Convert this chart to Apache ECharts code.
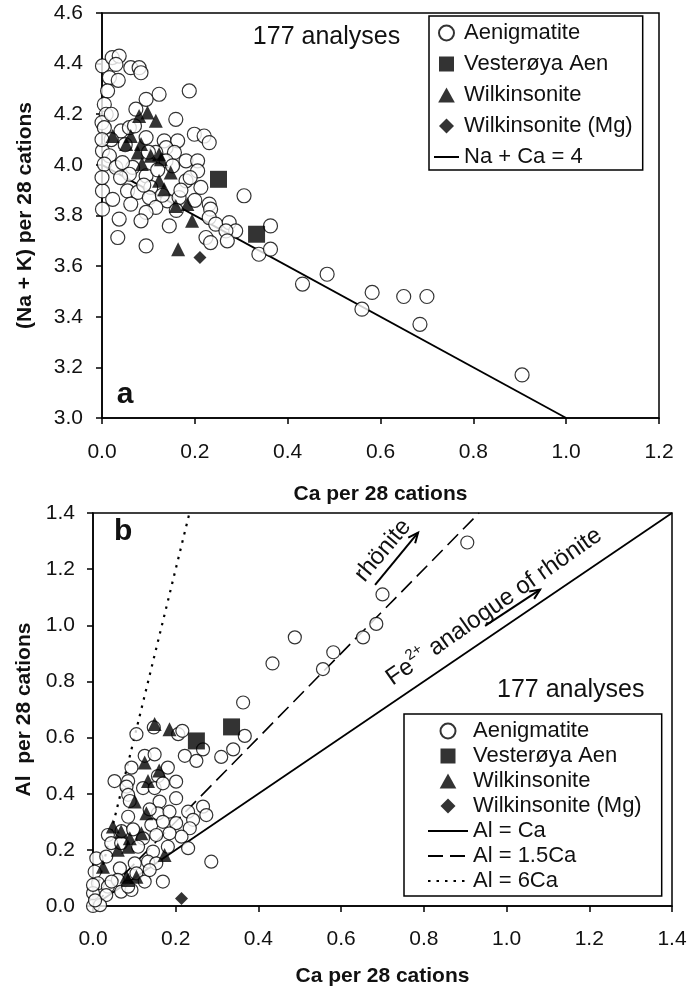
<!DOCTYPE html>
<html><head><meta charset="utf-8">
<script src="https://cdn.jsdelivr.net/npm/echarts@6/dist/echarts.min.js"></script>
<style>html,body{margin:0;padding:0;background:#fff}#c{width:690px;height:990px}</style>
</head><body><div id="c"></div>
<script>
// ---------- Panel a data ----------
const aAenigmatite = [[0.001,4.391],[0.022,4.424],[0.037,4.430],[0.030,4.397],[0.016,4.345],[0.035,4.334],[0.062,4.384],[0.080,4.384],[0.084,4.364],[0.012,4.292],[0.123,4.279],[0.188,4.292],[0.095,4.259],[0.005,4.239],[0.009,4.200],[0.073,4.220],[0.159,4.180],[0.000,4.167],[0.005,4.147],[0.041,4.134],[0.059,4.147],[0.070,4.154],[0.199,4.121],[0.220,4.114],[0.231,4.088],[0.095,4.108],[0.134,4.095],[0.163,4.095],[0.138,4.068],[0.001,4.055],[0.016,4.036],[0.116,4.049],[0.156,4.049],[0.005,4.003],[0.030,3.990],[0.066,3.990],[0.044,4.009],[0.138,4.016],[0.181,4.016],[0.206,4.016],[0.095,3.957],[0.059,3.963],[0.152,3.996],[0.206,3.976],[0.181,3.937],[0.213,3.911],[0.001,3.897],[0.023,3.864],[0.055,3.897],[0.077,3.891],[0.105,3.911],[0.102,3.871],[0.141,3.858],[0.166,3.871],[0.062,3.845],[0.116,3.832],[0.001,3.825],[0.095,3.812],[0.084,3.779],[0.037,3.786],[0.145,3.759],[0.231,3.845],[0.234,3.825],[0.231,3.792],[0.245,3.766],[0.274,3.772],[0.288,3.739],[0.267,3.739],[0.224,3.713],[0.234,3.693],[0.270,3.700],[0.034,3.713],[0.095,3.680],[0.306,3.878],[0.363,3.759],[0.338,3.647],[0.363,3.667],[0.432,3.529],[0.485,3.568],[0.582,3.496],[0.560,3.430],[0.650,3.480],[0.700,3.480],[0.685,3.370],[0.905,3.170],[0.100,4.050],[0.120,3.980],[0.090,3.920],[0.130,3.880],[0.170,3.900],[0.190,3.950],[0.200,3.860],[0.160,3.820],[0.050,4.080],[0.020,4.100],[0.040,3.950],[0.000,3.950],[0.000,4.100],[0.020,4.200]];
const aVesteroya = [[0.251,3.943],[0.333,3.726]];
const aWilkinsonite = [[0.023,4.114],[0.052,4.082],[0.062,4.114],[0.080,4.193],[0.098,4.207],[0.116,4.174],[0.084,4.082],[0.077,4.049],[0.086,4.003],[0.105,4.036],[0.123,4.042],[0.127,4.022],[0.148,3.970],[0.123,3.937],[0.134,3.904],[0.159,3.838],[0.184,3.845],[0.194,3.779],[0.164,3.667]];
const aWilkinsoniteMg = [[0.211,3.634]];
const aLineNaCa4 = [[0,4],[1,3]];

// ---------- Panel b data ----------
const bAenigmatite = [[0.488,0.957],[0.434,0.864],[0.363,0.725],[0.556,0.844],[0.581,0.904],[0.653,0.957],[0.685,1.005],[0.700,1.110],[0.905,1.295],[0.105,0.612],[0.147,0.636],[0.206,0.612],[0.216,0.624],[0.367,0.606],[0.339,0.558],[0.310,0.531],[0.222,0.535],[0.250,0.517],[0.266,0.558],[0.125,0.535],[0.149,0.540],[0.093,0.493],[0.181,0.493],[0.157,0.463],[0.052,0.445],[0.085,0.445],[0.081,0.425],[0.085,0.396],[0.121,0.420],[0.149,0.420],[0.169,0.437],[0.201,0.443],[0.201,0.384],[0.161,0.372],[0.085,0.318],[0.157,0.330],[0.185,0.336],[0.141,0.289],[0.169,0.300],[0.201,0.295],[0.230,0.336],[0.242,0.307],[0.266,0.354],[0.274,0.324],[0.234,0.277],[0.214,0.247],[0.185,0.259],[0.153,0.253],[0.121,0.241],[0.036,0.253],[0.044,0.224],[0.068,0.224],[0.109,0.211],[0.145,0.194],[0.181,0.211],[0.230,0.206],[0.008,0.170],[0.032,0.176],[0.065,0.134],[0.101,0.152],[0.133,0.158],[0.153,0.152],[0.105,0.116],[0.004,0.122],[0.012,0.081],[0.036,0.069],[0.060,0.093],[0.125,0.087],[0.137,0.128],[0.169,0.087],[0.286,0.158],[0.032,0.039],[0.068,0.051],[0.000,0.046],[0.093,0.057],[0.089,0.374],[0.137,0.344],[0.069,0.267],[0.097,0.273],[0.000,0.000],[0.017,0.003],[0.005,0.020],[0.045,0.087],[0.085,0.069],[0.000,0.075]];
const bVesteroya = [[0.250,0.588],[0.335,0.638]];
const bWilkinsonite = [[0.149,0.648],[0.185,0.630],[0.125,0.511],[0.160,0.483],[0.133,0.445],[0.101,0.372],[0.129,0.330],[0.048,0.283],[0.068,0.265],[0.089,0.241],[0.117,0.259],[0.085,0.211],[0.060,0.200],[0.173,0.182],[0.024,0.140],[0.081,0.104],[0.105,0.104],[0.085,0.093]];
const bWilkinsoniteMg = [[0.214,0.027]];
const bLineAlCa = [[0,0],[1.4,1.4]];
const bLineAl15Ca = [[0,0],[0.9333,1.4]];
const bLineAl6Ca = [[0,0],[0.2333,1.4]];

const FONT = '"Liberation Sans", Arial, Helvetica, sans-serif';
const TXT = '#111';

const ICON_SQUARE = 'path://M0,0L10,0L10,10L0,10Z';
const ICON_TRIANGLE = 'path://M5,0L10,9L0,9Z';
const ICON_DIAMOND = 'path://M5,0L10,5L5,10L0,5Z';

const chart = echarts.init(document.getElementById('c'), null, {renderer: 'canvas'});

function axisCommon(extra) {
  return Object.assign({
    type: 'value',
    nameLocation: 'middle',
    nameTextStyle: {fontSize: 21, fontWeight: 'bold', fontFamily: FONT, color: TXT},
    axisLine: {show: true, onZero: false, lineStyle: {color: '#000', width: 1.5}},
    axisTick: {show: true, inside: false, length: 6, lineStyle: {color: '#000', width: 1.5}},
    splitLine: {show: false}
  }, extra);
}
function lbl(margin) {
  return {fontSize: 21, fontFamily: FONT, color: TXT, margin, formatter: v => v.toFixed(1)};
}

const circleStyle = {color: '#fff', borderColor: '#000', borderWidth: 1.2};
const blackStyle = {color: '#000'};

function scatter(name, data, gi, symbol, size, style, z) {
  return {name, type: 'scatter', xAxisIndex: gi, yAxisIndex: gi, data, symbol, symbolSize: size,
    itemStyle: style, z, clip: false, emphasis: {disabled: true}, silent: true};
}
function line(name, data, gi, type, width, z) {
  return {name, type: 'line', xAxisIndex: gi, yAxisIndex: gi, data, symbol: 'none', showSymbol: false,
    lineStyle: {color: '#000', width, type}, itemStyle: {color: 'rgba(0,0,0,0)', opacity: 0},
    z, silent: true, animation: false};
}
function legendItems(names) {
  const icons = {'Aenigmatite': 'circle', 'Vesterøya Aen': ICON_SQUARE, 'Wilkinsonite': ICON_TRIANGLE, 'Wilkinsonite (Mg)': ICON_DIAMOND};
  return names.map(n => icons[n] ? {name: n, icon: icons[n]} : {name: n, itemStyle: {opacity: 0, color: 'rgba(0,0,0,0)', borderWidth: 0}});
}

const option = {
  animation: false,
  backgroundColor: '#fff',
  textStyle: {fontFamily: FONT},
  grid: [
    {left: 102, top: 13, width: 557, height: 405, show: true, borderColor: '#000', borderWidth: 1.5, backgroundColor: 'transparent'},
    {left: 93, top: 513, width: 579, height: 393, show: true, borderColor: '#000', borderWidth: 1.5, backgroundColor: 'transparent'}
  ],
  xAxis: [
    axisCommon({gridIndex: 0, min: 0, max: 1.2, interval: 0.2, name: 'Ca per 28 cations', nameGap: 66, axisLabel: lbl(24)}),
    axisCommon({gridIndex: 1, min: 0, max: 1.4, interval: 0.2, name: 'Ca per 28 cations', nameGap: 60, axisLabel: lbl(23)})
  ],
  yAxis: [
    axisCommon({gridIndex: 0, min: 3.0, max: 4.6, interval: 0.2, name: '(Na + K) per 28 cations', nameRotate: 90, nameGap: 66, axisLabel: lbl(19)}),
    axisCommon({gridIndex: 1, min: 0, max: 1.4, interval: 0.2, name: 'Al  per 28 cations', nameRotate: 90, nameGap: 57, axisLabel: lbl(18)})
  ],
  legend: [
    {orient: 'vertical', left: 429, top: 16, padding: [6, 10, 2, 4], itemGap: 9, itemWidth: 25, itemHeight: 15,
      symbolKeepAspect: true,
      borderColor: '#000', borderWidth: 1.5, backgroundColor: '#fff', selectedMode: false, z: 10,
      textStyle: {fontSize: 22, fontFamily: FONT, color: TXT},
      data: legendItems(['Aenigmatite', 'Vesterøya Aen', 'Wilkinsonite', 'Wilkinsonite (Mg)', 'Na + Ca = 4'])},
    {orient: 'vertical', left: 404, top: 714, padding: [6, 20, 4, 23], itemGap: 3, itemWidth: 40, itemHeight: 15,
      symbolKeepAspect: true,
      borderColor: '#000', borderWidth: 1.5, backgroundColor: '#fff', selectedMode: false, z: 10,
      textStyle: {fontSize: 22, fontFamily: FONT, color: TXT},
      data: legendItems(['Aenigmatite', 'Vesterøya Aen', 'Wilkinsonite', 'Wilkinsonite (Mg)', 'Al = Ca', 'Al = 1.5Ca', 'Al = 6Ca'])}
  ],
  series: [
    line('Na + Ca = 4', aLineNaCa4, 0, 'solid', 1.8, 1),
    scatter('Aenigmatite', aAenigmatite, 0, 'circle', 14, circleStyle, 2),
    scatter('Vesterøya Aen', aVesteroya, 0, 'rect', 17, blackStyle, 3),
    scatter('Wilkinsonite', aWilkinsonite, 0, 'triangle', 14, blackStyle, 4),
    scatter('Wilkinsonite (Mg)', aWilkinsoniteMg, 0, 'diamond', 13, blackStyle, 4),

    line('Al = Ca', bLineAlCa, 1, 'solid', 1.8, 1),
    line('Al = 1.5Ca', bLineAl15Ca, 1, [15, 7], 1.6, 1),
    line('Al = 6Ca', bLineAl6Ca, 1, [2.5, 6], 2.2, 1),
    scatter('Aenigmatite', bAenigmatite, 1, 'circle', 13, circleStyle, 2),
    scatter('Vesterøya Aen', bVesteroya, 1, 'rect', 17, blackStyle, 3),
    scatter('Wilkinsonite', bWilkinsonite, 1, 'triangle', 14, blackStyle, 4),
    scatter('Wilkinsonite (Mg)', bWilkinsoniteMg, 1, 'diamond', 13, blackStyle, 4)
  ]
};
chart.setOption(option);

// ---------- annotations (positioned in data coordinates) ----------
function px(gi, p) { return chart.convertToPixel({gridIndex: gi}, p); }
function text(gi, p, str, size, opts) {
  const q = px(gi, p);
  opts = opts || {};
  return {
    type: 'text', x: q[0], y: q[1], rotation: (opts.rot || 0) * Math.PI / 180, z: 20,
    style: {text: str, font: (opts.bold ? 'bold ' : '') + size + 'px ' + FONT, fill: TXT,
      align: opts.align || 'left', verticalAlign: 'middle', textAlign: opts.align || 'left', textVerticalAlign: 'middle'}
  };
}
function arrow(gi, p0, p1) {
  const a = px(gi, p0), b = px(gi, p1);
  const ang = Math.atan2(b[1] - a[1], b[0] - a[0]);
  const L = 11, s = 0.42;
  const w1 = [b[0] - L * Math.cos(ang - s), b[1] - L * Math.sin(ang - s)];
  const w2 = [b[0] - L * Math.cos(ang + s), b[1] - L * Math.sin(ang + s)];
  return [
    {type: 'polyline', z: 20, shape: {points: [a, b]}, style: {stroke: '#000', lineWidth: 2, fill: null}},
    {type: 'polyline', z: 20, shape: {points: [w1, b, w2]}, style: {stroke: '#000', lineWidth: 2, fill: null}}
  ];
}

const fe = px(1, [0.967, 1.072]);
const graphics = [
  text(0, [0.325, 4.505], '177 analyses', 25),
  text(0, [0.032, 3.09], 'a', 30, {bold: true}),
  text(1, [0.051, 1.333], 'b', 30, {bold: true}),
  text(1, [0.977, 0.77], '177 analyses', 25),
  text(1, [0.701, 1.266], 'rhönite', 24, {rot: 50, align: 'center'}),
  {
    type: 'text', x: fe[0], y: fe[1], rotation: 35 * Math.PI / 180, z: 20,
    style: {
      text: '{n|Fe}{s|2+}{n| analogue of rhönite}',
      align: 'center', verticalAlign: 'middle', textAlign: 'center', textVerticalAlign: 'middle',
      fill: TXT,
      rich: {
        n: {fontSize: 24, fontFamily: FONT, color: TXT, lineHeight: 28, verticalAlign: 'bottom'},
        s: {fontSize: 15, fontFamily: FONT, color: TXT, lineHeight: 28, verticalAlign: 'top', padding: [0, 0, 10, 0]}
      }
    }
  }
].concat(arrow(1, [0.682, 1.144], [0.786, 1.33]), arrow(1, [0.948, 0.998], [1.081, 1.127]));

chart.setOption({graphic: graphics});
</script>
</body></html>
